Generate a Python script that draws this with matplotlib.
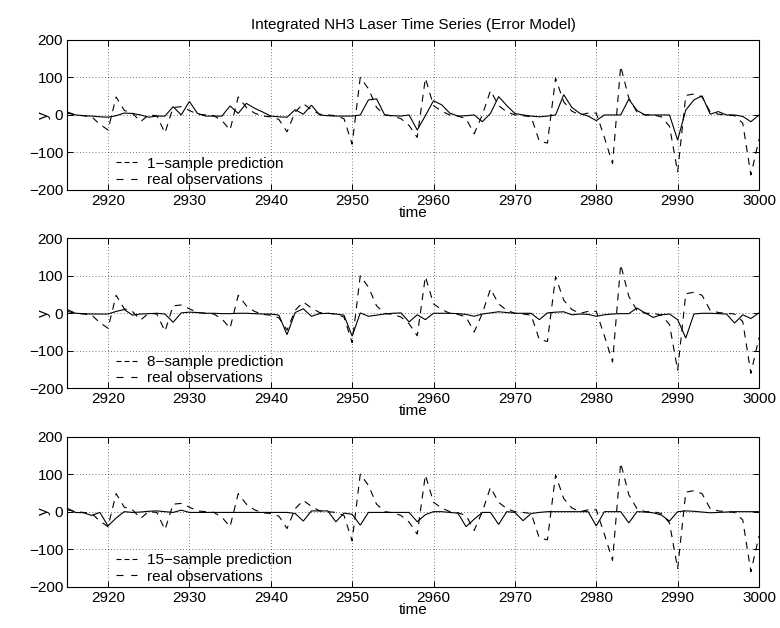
import numpy as np
import matplotlib
matplotlib.use("Agg")
import matplotlib.pyplot as plt
from matplotlib.lines import Line2D

plt.rcParams['font.family'] = ['Liberation Sans', 'DejaVu Sans']

t_start, t_stop = 2915, 3000
time = np.arange(t_start, t_stop + 1)

# measured laser signal (error model)
observations = [
    5, 0, -2, -5, -25, -40, 48, 12, 5, -18,
    0, -2, -48, 20, 22, 12, 2, 0, -2, -15,
    -40, 48, 20, 5, -3, -5, -12, -45, 8, 30,
    14, 2, 0, -2, -10, -78, 100, 70, 20, 0,
    -3, -10, -28, -60, 98, 25, 10, 0, -3, -10,
    -50, 0, 65, 25, 8, 0, -2, -5, -70, -75,
    98, 35, 10, 0, 5, 5, -60, -130, 130, 45,
    8, 0, 0, -5, -30, -152, 52, 56, 48, 8,
    2, 0, -2, -22, -160, -65,
]

pred_1 = [
    8, 0, -2, -3, -5, -6, -2, 5, 4, 0,
    -6, -3, -3, 22, 0, 36, 4, -3, -3, -3,
    24, 4, 31, 18, 8, -3, -5, -6, 14, 2,
    26, 0, -2, -3, -3, -3, 0, 40, 43, 0,
    -2, -3, 0, -40, -2, 38, 27, 5, -3, -2,
    0, -18, 4, 49, 25, 4, 0, -3, -5, -3,
    0, 54, 20, 4, -3, -15, 0, 0, 0, 42,
    12, 0, 0, 0, 0, -67, 13, 40, 51, 2,
    9, 0, 0, -4, -18, 0,
]

pred_8 = [
    10, 0, -1, -2, -2, -2, 5, 10, -5, -2,
    -1, 0, -2, -24, 1, 3, 2, 0, 0, -1,
    -1, 0, 0, -1, -2, -2, -5, -57, 2, 12,
    -8, -1, 0, -2, -5, -61, 1, -8, -5, -2,
    0, 1, -23, -4, -17, 0, 0, 0, -1, -3,
    -8, -2, 1, 4, 2, 0, 0, 0, -17, 1,
    3, 4, -4, -2, -3, -8, -4, -2, -1, -1,
    14, 1, -11, -4, -2, -17, -66, -2, 0, 0,
    -1, -2, -26, -4, -14, 1,
]

pred_15 = [
    9, -2, -3, -10, -2, -38, -17, 0, -2, -1,
    1, 2, 0, -2, 4, -2, -2, -2, -2, -2,
    -2, -2, -2, -2, -2, -2, -2, -2, -5, -25,
    2, 2, 2, -27, -4, -7, -36, -2, -2, -2,
    -2, -2, -2, -27, -8, 0, 0, -2, -4, -40,
    -20, -2, -2, -34, 0, -2, -24, -5, -2, 0,
    0, 0, 0, 0, 0, -38, 0, 0, 0, -30,
    0, -1, -3, -9, -25, 0, 2, 1, -1, -3,
    -2, -1, 0, 0, 0, 0,
]

panels = [
    (pred_1, "1\u2212sample prediction"),
    (pred_8, "8\u2212sample prediction"),
    (pred_15, "15\u2212sample prediction"),
]
obs_label = "real observations"
title = "Integrated NH3 Laser Time Series (Error Model)"
x_ticks = [2920, 2930, 2940, 2950, 2960, 2970, 2980, 2990, 3000]
y_ticks = [-200, -100, 0, 100, 200]

fig = plt.figure(figsize=(7.8, 6.28), dpi=100)
left, width, height = 0.0863, 0.8868, 0.2389
bottoms = [0.6975, 0.3817, 0.0658]

obs_dash = (6.3, 5.4)
pred_legend_dash = (4.5, 2.7)
obs_legend_dash = (6.3, 7.0)
lw = 0.8
fs = 11

for (pred, label), b in zip(panels, bottoms):
    ax = fig.add_axes([left, b, width, height])
    ax.plot(time, pred, color='k', lw=lw, solid_joinstyle='miter')
    ax.plot(time, observations, color='k', lw=lw, dashes=obs_dash)
    ax.set_xlim(t_start, t_stop)
    ax.set_ylim(-200, 200)
    ax.set_xticks(x_ticks)
    ax.set_yticks(y_ticks)
    ax.grid(True, color='k', lw=0.5, linestyle=(0, (1, 3.5)))
    ax.tick_params(direction='in', top=True, right=True, length=4,
                   width=0.7, labelsize=fs, pad=3)
    for s in ax.spines.values():
        s.set_linewidth(0.8)
    ax.set_xlabel("time", fontsize=fs, labelpad=-1.5)
    ax.set_ylabel("y", fontsize=fs)
    ax.yaxis.set_label_coords(-0.024, 0.5)
    handles = [
        Line2D([], [], color='k', lw=lw, dashes=pred_legend_dash),
        Line2D([], [], color='k', lw=lw, dashes=obs_legend_dash),
    ]
    ax.legend(handles, [label, obs_label], loc='lower left',
              bbox_to_anchor=(0.0704, 0.02), frameon=False, fontsize=fs,
              handlelength=1.37, handletextpad=0.65, labelspacing=0.15,
              borderpad=0, borderaxespad=0)
    if b == bottoms[0]:
        ax.set_title(title, fontsize=fs, pad=8)

fig.savefig("out.png", dpi=100)
